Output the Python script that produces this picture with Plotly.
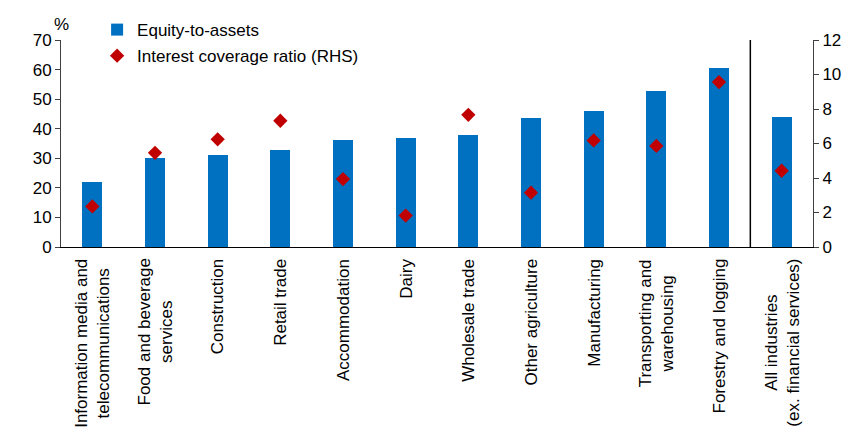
import plotly.graph_objects as go

categories = [
    "Information media and<br>telecommunications",
    "Food and beverage<br>services",
    "Construction",
    "Retail trade",
    "Accommodation",
    "Dairy",
    "Wholesale trade",
    "Other agriculture",
    "Manufacturing",
    "Transporting and<br>warehousing",
    "Forestry and logging",
    "All industries<br>(ex. financial services)",
]
equity_to_assets = [22.0, 30.0, 31.0, 32.7, 36.1, 36.7, 38.0, 43.7, 46.1, 52.8, 60.6, 44.1]
interest_coverage = [2.35, 5.46, 6.24, 7.32, 3.94, 1.82, 7.66, 3.15, 6.18, 5.86, 9.56, 4.42]
left_ticks = [0, 10, 20, 30, 40, 50, 60, 70]
right_ticks = [0, 2, 4, 6, 8, 10, 12]

FONT = "Arial, Liberation Sans, sans-serif"
BLUE = "#0070C0"
RED = "#C00000"

fig = go.Figure()
fig.add_trace(go.Bar(
    x=categories, y=equity_to_assets, name="Equity-to-assets",
    marker=dict(color=BLUE, line=dict(width=0)), width=0.32,
    legendgroup="a", yaxis="y",
))
fig.add_trace(go.Scatter(
    x=categories, y=interest_coverage, name="Interest coverage ratio (RHS)",
    mode="markers", marker=dict(symbol="diamond", color=RED, size=11, line=dict(width=0)),
    legendgroup="b", yaxis="y2",
))

annotations = [
    dict(x=c, y=0, xref="x", yref="paper", yanchor="top", xanchor="center",
         yshift=-10, text=c, textangle=-90, align="center", showarrow=False,
         font=dict(family=FONT, size=17, color="black"))
    for c in categories
]
annotations.append(dict(x=0, y=1, xref="paper", yref="paper", xanchor="center",
                        yanchor="bottom", yshift=4, text="%", showarrow=False,
                        font=dict(family=FONT, size=17, color="black")))

fig.update_layout(
    width=852, height=427,
    margin=dict(l=61, r=39, t=36, b=180, pad=0),
    paper_bgcolor="white", plot_bgcolor="white",
    font=dict(family=FONT, size=17, color="black"),
    showlegend=True,
    legend=dict(x=0.048, y=1.135, xanchor="left", yanchor="top",
                bgcolor="rgba(0,0,0,0)", font=dict(size=17),
                tracegroupgap=1, itemwidth=30),
    bargap=0,
    xaxis=dict(showticklabels=False, ticks="", showline=True, linecolor="black",
               linewidth=1, showgrid=False, zeroline=False,
               range=[-0.5, len(categories) - 0.5]),
    yaxis=dict(range=[0, 70], tickvals=left_ticks, ticks="outside", ticklen=5,
               tickcolor="#404040", showline=True, linecolor="#404040", linewidth=1,
               showgrid=False, zeroline=False, tickfont=dict(size=17)),
    yaxis2=dict(range=[0, 12], tickvals=right_ticks, overlaying="y", side="right",
                ticks="outside", ticklen=5, tickcolor="#404040", showline=True,
                linecolor="#404040", linewidth=1, showgrid=False, zeroline=False,
                tickfont=dict(size=17)),
    shapes=[dict(type="line", xref="x", yref="paper", x0=10.5, x1=10.5, y0=0, y1=1,
                 line=dict(color="black", width=1.5))],
    annotations=annotations,
)

fig.write_html("out.html", config={"displayModeBar": False},
               post_script="document.body.style.margin='0';document.body.style.overflow='hidden';")
